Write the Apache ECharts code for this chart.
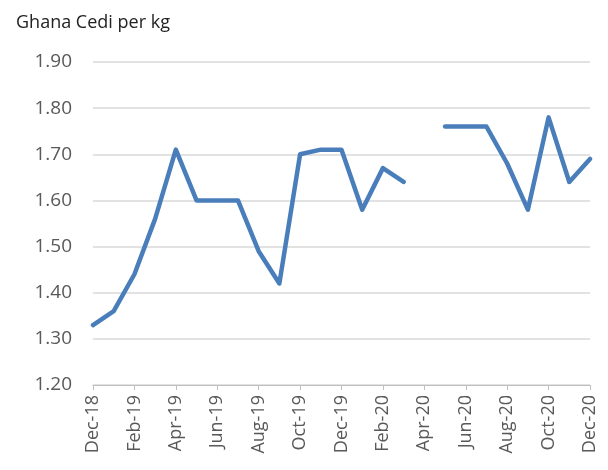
<!DOCTYPE html>
<html><head><meta charset="utf-8">
<script src="https://cdn.jsdelivr.net/npm/echarts@6/dist/echarts.min.js"></script>
<style>html,body{margin:0;padding:0;background:#fff}#c{width:608px;height:470px}</style>
</head><body><div id="c"></div>
<script>
const categories = ['Dec-18','Jan-19','Feb-19','Mar-19','Apr-19','May-19','Jun-19','Jul-19','Aug-19','Sep-19','Oct-19','Nov-19','Dec-19','Jan-20','Feb-20','Mar-20','Apr-20','May-20','Jun-20','Jul-20','Aug-20','Sep-20','Oct-20','Nov-20','Dec-20'];
const prices = [1.33,1.36,1.44,1.56,1.71,1.60,1.60,1.60,1.49,1.42,1.70,1.71,1.71,1.58,1.67,1.64,null,1.76,1.76,1.76,1.68,1.58,1.78,1.64,1.69];
const yTitle = 'Ghana Cedi per kg';
const chart = echarts.init(document.getElementById('c'), null, {renderer:'canvas'});
chart.setOption({
  animation:false,
  title:{text:yTitle,left:11,top:9,textStyle:{fontFamily:'Open Sans',fontSize:18,fontWeight:'normal',color:'#222'}},
  grid:{left:93,right:18,top:62,bottom:85},
  xAxis:{type:'category',data:categories,boundaryGap:false,
    axisLine:{lineStyle:{color:'#bfbfbf',width:1}},
    axisTick:{show:true,interval:1,length:5,lineStyle:{color:'#bfbfbf'}},
    axisLabel:{interval:1,rotate:90,color:'#595959',fontFamily:'Open Sans',fontSize:18,margin:10}},
  yAxis:{type:'value',min:1.2,max:1.9,interval:0.1,
    axisLine:{show:false},axisTick:{show:false},
    splitLine:{lineStyle:{color:'#d9d9d9',width:1.5}},
    axisLabel:{formatter:v=>v.toFixed(2),color:'#595959',fontFamily:'Open Sans',fontSize:19,margin:21}},
  series:[{type:'line',data:prices,connectNulls:false,showSymbol:false,symbol:'none',
    lineStyle:{color:'#4a7ebb',width:4.5,join:'round',cap:'round'}}]
});
</script></body></html>
